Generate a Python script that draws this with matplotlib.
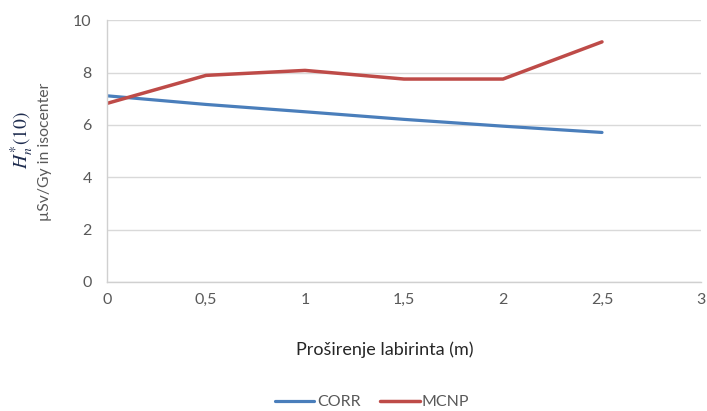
import numpy as np
import matplotlib
matplotlib.use('Agg')
import matplotlib.pyplot as plt
from matplotlib.ticker import FuncFormatter

# Data
width = [0, 0.5, 1, 1.5, 2, 2.5]
corr = [7.11, 6.78, 6.50, 6.21, 5.95, 5.71]
mcnp = [6.82, 7.89, 8.08, 7.75, 7.75, 9.17]
x_ticks = [0, 0.5, 1, 1.5, 2, 2.5, 3]
y_ticks = [0, 2, 4, 6, 8, 10]

plt.rcParams['font.family'] = ['Lato', 'DejaVu Sans']
plt.rcParams['mathtext.fontset'] = 'stix'
grey = '#595959'

fig = plt.figure(figsize=(7.07, 4.11), dpi=100)
ax = fig.add_axes([107 / 707, 0.314, 594 / 707, 0.637])

ax.plot(width, corr, color='#4A7EBB', lw=2.3, label='CORR', solid_capstyle='round')
ax.plot(width, mcnp, color='#BE4B48', lw=2.5, label='MCNP', solid_capstyle='round')

ax.set_xlim(0, 3)
ax.set_ylim(0, 10)
ax.set_xticks(x_ticks)
ax.set_yticks(y_ticks)
ax.xaxis.set_major_formatter(FuncFormatter(lambda v, p: f'{v:g}'.replace('.', ',')))
ax.tick_params(length=0, labelsize=11.5, colors=grey, pad=8)
ax.tick_params(axis='y', pad=11)
ax.grid(axis='y', color='#D9D9D9', lw=1)
ax.set_axisbelow(True)
for side in ['top', 'right']:
    ax.spines[side].set_visible(False)
for side in ['left', 'bottom']:
    ax.spines[side].set_color('#D0D0D0')
    ax.spines[side].set_linewidth(1)

fig.text(385 / 707, 1 - 350 / 411, 'Proširenje labirinta (m)', ha='center', va='center',
         fontsize=13, color='#262626')
fig.text(22 / 707, 1 - 140 / 411, r'$H^{*}_{n}(10)$', rotation=90, ha='center', va='center',
         fontsize=14, color='#1F2D4F')
fig.text(45 / 707, 1 - 152 / 411, 'µSv/Gy in isocenter', rotation=90, ha='center', va='center',
         fontsize=11.3, color=grey)

leg = fig.legend(loc='center', bbox_to_anchor=(372 / 707, 1 - 402 / 411), ncol=2, frameon=False,
                 fontsize=11.5, handlelength=2.5, columnspacing=1.2, handletextpad=0.15)
for t in leg.get_texts():
    t.set_color(grey)

fig.savefig('out.png', dpi=100)
